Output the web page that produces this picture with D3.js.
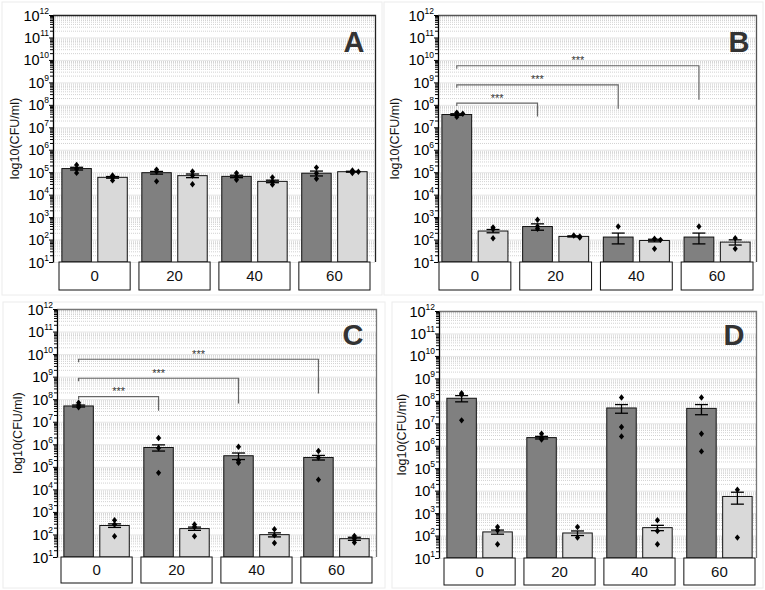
<!DOCTYPE html>
<html>
<head>
<meta charset="utf-8">
<script src="https://cdn.jsdelivr.net/npm/d3@7"></script>
<style>
  body { margin: 0; background: #fff; }
  svg { display: block; font-family: "Liberation Sans", Arial, sans-serif; }
</style>
</head>
<body>
<svg id="chart" width="765" height="590"></svg>
<script>
// ---------------- DATA ----------------
const categories = ["0", "20", "40", "60"];
const seriesNames = ["dark", "light"];
const yTickExponents = [1, 2, 3, 4, 5, 6, 7, 8, 9, 10, 11, 12];
const yLabel = "log10(CFU/ml)";
const panelIds = ["A", "B", "C", "D"];

// Panel A
const A_dark = [1.45e5, 9.5e4, 6.5e4, 9.0e4];
const A_light = [5.9e4, 7.0e4, 3.9e4, 1.05e5];
const A_darkErr = [2.0e4, 1.3e4, 8e3, 2.2e4];
const A_lightErr = [5e3, 1.3e4, 5e3, 5e3];
const A_darkPts = [[2.1e5, 1.4e5, 9.3e4], [1.3e5, 1.07e5, 3.9e4], [9.1e4, 6.5e4, 4.6e4], [1.6e5, 9.0e4, 5.1e4]];
const A_lightPts = [[7.1e4, 5.9e4, 4.3e4], [1.07e5, 7.1e4, 2.9e4], [5.9e4, 3.9e4, 2.8e4], [1.2e5, 1.05e5, 9.1e4]];

// Panel B
const B_dark = [3.7e7, 380, 129, 129];
const B_light = [240, 138, 91, 77];
const B_darkErr = [3e6, 120, 65, 65];
const B_lightErr = [40, 8, 12, 20];
const B_darkPts = [[4.5e7, 4.0e7, 2.9e7], [760, 380, 300], [380], [380]];
const B_lightPts = [[290, 350, 115], [151, 138, 123], [108, 97, 39], [115, 39]];
const B_brackets = [[0, 1, 1.2e8, 3.0e7], [0, 2, 7.8e8, 6.6e7], [0, 3, 5.5e9, 1.7e8]];

// Panel C
const C_dark = [5.0e7, 7.2e5, 3.1e5, 2.6e5];
const C_light = [250, 182, 98, 65];
const C_darkErr = [5e6, 2.2e5, 1e5, 6e4];
const C_lightErr = [45, 30, 20, 10];
const C_darkPts = [[6.9e7, 5.5e7, 4.4e7], [1.9e6, 6.9e5, 5.4e4], [7.8e5, 1.9e5, 1.5e5], [5.0e5, 2.6e5, 2.7e4]];
const C_lightPts = [[430, 275, 83], [275, 215, 83], [170, 91, 42], [85, 65, 44]];
const C_brackets = [[0, 1, 1.3e8, 3.1e7], [0, 2, 8.5e8, 6.5e7], [0, 3, 5.9e9, 1.8e8]];

// Panel D
const D_dark = [1.3e8, 2.3e6, 4.8e7, 4.6e7];
const D_light = [145, 130, 225, 5.5e3];
const D_darkErr = [4e7, 3e5, 2e7, 2.2e7];
const D_lightErr = [30, 30, 60, 3e3];
const D_darkPts = [[2.2e8, 1.9e8, 1.35e7], [3.4e6, 2.2e6, 1.9e6], [1.4e8, 6.8e6, 2.6e6], [1.4e8, 3.4e6, 5.6e5]];
const D_lightPts = [[240, 170, 41], [240, 81], [480, 160, 41], [1.1e4, 81]];
const D_brackets = [];

// ---------------- LAYOUT ----------------
const layout = {
  A: { left: 53, right: 375, top: 15, bottom: 262, boxBottom: 290, inL: 6, inR: 5, labelX: 15, letterX: 354, letterY: 52, frame: "#222", outer: [2, 2, 382, 295] },
  B: { left: 438, right: 756, top: 15, bottom: 262, boxBottom: 290, inL: 1, inR: 3, labelX: 395, letterX: 739, letterY: 52, frame: "#555", outer: [384, 2, 763, 295] },
  C: { left: 57, right: 376, top: 309, bottom: 557, boxBottom: 583, inL: 4, inR: 4, labelX: 18, letterX: 353, letterY: 345, frame: "#777", outer: [3, 302, 385, 588] },
  D: { left: 439, right: 756, top: 311, bottom: 558, boxBottom: 585, inL: 5, inR: 1, labelX: 402, letterX: 734, letterY: 345, frame: "#777", outer: [392, 302, 763, 588] }
};
const colors = { dark: "#808080", light: "#d9d9d9" };

const panelData = {
  A: { dark: A_dark, light: A_light, darkErr: A_darkErr, lightErr: A_lightErr, darkPts: A_darkPts, lightPts: A_lightPts, brackets: [] },
  B: { dark: B_dark, light: B_light, darkErr: B_darkErr, lightErr: B_lightErr, darkPts: B_darkPts, lightPts: B_lightPts, brackets: B_brackets },
  C: { dark: C_dark, light: C_light, darkErr: C_darkErr, lightErr: C_lightErr, darkPts: C_darkPts, lightPts: C_lightPts, brackets: C_brackets },
  D: { dark: D_dark, light: D_light, darkErr: D_darkErr, lightErr: D_lightErr, darkPts: D_darkPts, lightPts: D_lightPts, brackets: D_brackets }
};

const svg = d3.select("#chart");
const majors = yTickExponents.map(e => Math.pow(10, e));
const minors = [];
for (let e = 1; e < 12; e++) for (let m = 2; m <= 9; m++) minors.push(m * Math.pow(10, e));
const diamond = "M0,-3.2L2.6,0L0,3.2L-2.6,0Z";

panelIds.forEach(id => {
  const L = layout[id];
  const P = panelData[id];

  // faint outer frame
  svg.append("rect")
    .attr("x", L.outer[0]).attr("y", L.outer[1])
    .attr("width", L.outer[2] - L.outer[0]).attr("height", L.outer[3] - L.outer[1])
    .attr("fill", "none").attr("stroke", "#ececec").attr("stroke-width", 1);

  const y = d3.scaleLog().domain([10, 1e12]).range([L.bottom, L.top]);
  const x = d3.scaleBand().domain(categories)
    .range([L.left + L.inL, L.right - L.inR]).paddingInner(0.11).paddingOuter(0);
  const xs = d3.scaleBand().domain(seriesNames)
    .range([0, x.bandwidth()]).paddingInner(0.18).paddingOuter(0.08);
  const W = L.right - L.left;

  const g = svg.append("g");

  // grid: minor dotted lines
  g.append("g").attr("transform", `translate(${L.left},0)`)
    .call(d3.axisLeft(y).tickValues(minors).tickSize(-W).tickFormat(""))
    .call(s => s.select(".domain").remove())
    .call(s => s.selectAll("line").attr("stroke", "#d2d2d2").attr("stroke-dasharray", "1,1"));
  // grid: major lines
  g.append("g").attr("transform", `translate(${L.left},0)`)
    .call(d3.axisLeft(y).tickValues(majors).tickSize(-W).tickFormat(""))
    .call(s => s.select(".domain").remove())
    .call(s => s.selectAll("line").attr("stroke", "#e6e6e6"));

  // frame top + right
  g.append("path")
    .attr("d", `M${L.left},${L.top + 0.5}H${L.right + 0.5}V${L.bottom}`)
    .attr("fill", "none").attr("stroke", L.frame).attr("stroke-width", 1.3);

  // bars
  const rows = categories.map((c, i) => ({ c, i }));
  seriesNames.forEach(s => {
    const vals = P[s], errs = P[s + "Err"], pts = P[s + "Pts"];
    g.append("g").selectAll("rect").data(rows).join("rect")
      .attr("x", d => x(d.c) + xs(s))
      .attr("y", d => y(vals[d.i]))
      .attr("width", xs.bandwidth())
      .attr("height", d => L.bottom - y(vals[d.i]))
      .attr("fill", colors[s]).attr("stroke", "#111").attr("stroke-width", 1);

    // error bars
    const eg = g.append("g").attr("stroke", "#000").attr("stroke-width", 1.3);
    rows.forEach(d => {
      const cx = x(d.c) + xs(s) + xs.bandwidth() / 2;
      const hi = y(vals[d.i] + errs[d.i]);
      const lo = y(Math.max(vals[d.i] - errs[d.i], 10));
      const cw = 6.5;
      eg.append("line").attr("x1", cx).attr("x2", cx).attr("y1", hi).attr("y2", lo);
      eg.append("line").attr("x1", cx - cw).attr("x2", cx + cw).attr("y1", hi).attr("y2", hi);
      eg.append("line").attr("x1", cx - cw).attr("x2", cx + cw).attr("y1", lo).attr("y2", lo);
    });

    // points (diamonds)
    const pd = [];
    rows.forEach(d => {
      const placed = [];
      pts[d.i].forEach(v => {
        const lv = Math.log10(v);
        let off = 0;
        const near = placed.filter(p => Math.abs(p - lv) < 0.06).length;
        if (near > 0) off = (near % 2 ? 6 : -6);
        placed.push(lv);
        pd.push({ cx: x(d.c) + xs(s) + xs.bandwidth() / 2 + off, v });
      });
    });
    g.append("g").selectAll("path").data(pd).join("path")
      .attr("transform", d => `translate(${d.cx},${y(d.v)})`)
      .attr("d", diamond)
      .attr("fill", "#000");
  });

  // y axis
  const ax = g.append("g").attr("transform", `translate(${L.left},0)`);
  ax.call(d3.axisLeft(y).tickValues(minors).tickSize(3).tickFormat(""))
    .call(s => s.selectAll("line").attr("stroke", "#000"))
    .call(s => s.select(".domain").remove());
  const axM = g.append("g").attr("transform", `translate(${L.left},0)`);
  axM.call(d3.axisLeft(y).tickValues(majors).tickSize(4).tickSizeOuter(0).tickFormat(""))
    .call(s => s.selectAll("line").attr("stroke", "#000"))
    .call(s => s.select(".domain").attr("stroke", "#000").attr("stroke-width", 1.3));
  axM.selectAll(".tick").each(function (d) {
    const t = d3.select(this).append("text")
      .attr("x", -4).attr("y", 5).attr("text-anchor", "end")
      .attr("fill", "#000").attr("font-size", 14.5);
    t.append("tspan").text("10");
    t.append("tspan").attr("font-size", 8.5).attr("dy", -7).text(String(Math.round(Math.log10(d))));
  });

  // y label
  g.append("text")
    .attr("transform", `translate(${L.labelX},${(L.top + L.bottom) / 2}) rotate(-90)`)
    .attr("text-anchor", "middle").attr("dy", "0.35em")
    .attr("font-size", 12.5).attr("fill", "#111").text(yLabel);

  // category boxes
  const bx = g.append("g").selectAll("g").data(categories).join("g");
  bx.append("rect")
    .attr("x", c => x(c)).attr("y", L.bottom)
    .attr("width", x.bandwidth()).attr("height", L.boxBottom - L.bottom)
    .attr("fill", "#fff").attr("stroke", "#111").attr("stroke-width", 1);
  bx.append("text")
    .attr("x", c => x(c) + x.bandwidth() / 2).attr("y", (L.bottom + L.boxBottom) / 2)
    .attr("dy", "0.36em").attr("text-anchor", "middle")
    .attr("font-size", 15).attr("fill", "#111").text(c => c);

  // significance brackets
  P.brackets.forEach(b => {
    const x1 = x(categories[b[0]]) + xs("dark") + xs.bandwidth() / 2;
    const x2 = x(categories[b[1]]) + xs("dark") + xs.bandwidth() / 2;
    const yl = y(b[2]), yd = y(b[3]);
    g.append("path")
      .attr("d", `M${x1},${yl + 3}V${yl}H${x2}V${yd}`)
      .attr("fill", "none").attr("stroke", "#666").attr("stroke-width", 1.2);
    g.append("text")
      .attr("x", (x1 + x2) / 2).attr("y", yl - 1.5)
      .attr("text-anchor", "middle").attr("font-size", 11)
      .attr("fill", "#333").text("***");
  });

  // panel letter
  g.append("text")
    .attr("x", L.letterX).attr("y", L.letterY)
    .attr("text-anchor", "middle").attr("font-size", 29).attr("font-weight", "bold")
    .attr("fill", "#333").text(id);
});
</script>
</body>
</html>
